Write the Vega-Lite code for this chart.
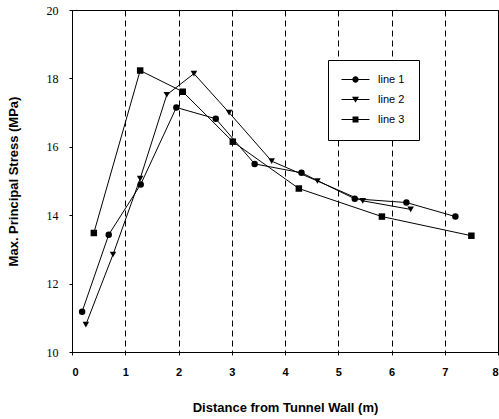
{
  "$schema": "https://vega.github.io/schema/vega-lite/v6.json",
  "autosize": "none",
  "padding": {"left": 72, "top": 10, "right": 1, "bottom": 67},
  "width": 426,
  "height": 342,
  "background": "white",
  "config": {
    "view": {"stroke": "black", "strokeWidth": 1},
    "axis": {"domainColor": "black", "tickColor": "black", "labelColor": "black", "titleColor": "black"}
  },
  "data": {"values": [
    {"series": "line 1", "x": 0.19, "y": 11.18},
    {"series": "line 1", "x": 0.69, "y": 13.43},
    {"series": "line 1", "x": 1.29, "y": 14.9},
    {"series": "line 1", "x": 1.96, "y": 17.15},
    {"series": "line 1", "x": 2.7, "y": 16.82},
    {"series": "line 1", "x": 3.43, "y": 15.5},
    {"series": "line 1", "x": 4.31, "y": 15.24},
    {"series": "line 1", "x": 5.31, "y": 14.48},
    {"series": "line 1", "x": 6.28, "y": 14.37},
    {"series": "line 1", "x": 7.2, "y": 13.96},
    {"series": "line 2", "x": 0.26, "y": 10.8},
    {"series": "line 2", "x": 0.77, "y": 12.85},
    {"series": "line 2", "x": 1.28, "y": 15.07},
    {"series": "line 2", "x": 1.78, "y": 17.52},
    {"series": "line 2", "x": 2.29, "y": 18.14},
    {"series": "line 2", "x": 2.95, "y": 17.0},
    {"series": "line 2", "x": 3.75, "y": 15.58},
    {"series": "line 2", "x": 4.61, "y": 15.0},
    {"series": "line 2", "x": 5.46, "y": 14.42},
    {"series": "line 2", "x": 6.36, "y": 14.17},
    {"series": "line 3", "x": 0.41, "y": 13.48},
    {"series": "line 3", "x": 1.28, "y": 18.23},
    {"series": "line 3", "x": 2.08, "y": 17.61},
    {"series": "line 3", "x": 3.02, "y": 16.15},
    {"series": "line 3", "x": 4.26, "y": 14.78},
    {"series": "line 3", "x": 5.82, "y": 13.96},
    {"series": "line 3", "x": 7.5, "y": 13.4}
  ]},
  "encoding": {
    "x": {
      "field": "x", "type": "quantitative",
      "scale": {"domain": [0, 8], "nice": false, "zero": false},
      "axis": {
        "values": [0, 1, 2, 3, 4, 5, 6, 7, 8],
        "title": "Distance from Tunnel Wall (m)",
        "titleFont": "Liberation Sans", "titleFontSize": 13, "titleFontWeight": "bold", "titlePadding": 24,
        "labelFont": "Liberation Sans", "labelFontSize": 11, "labelFontWeight": "bold", "labelPadding": 11,
        "tickSize": 3, "grid": true, "gridColor": "black", "gridDash": [6, 4], "gridWidth": 1, "gridOpacity": 1
      }
    },
    "y": {
      "field": "y", "type": "quantitative",
      "scale": {"domain": [10, 20], "nice": false, "zero": false},
      "axis": {
        "values": [10, 12, 14, 16, 18, 20],
        "title": "Max. Principal Stress (MPa)",
        "titleFont": "Liberation Sans", "titleFontSize": 13, "titleFontWeight": "bold", "titlePadding": 26,
        "labelFont": "Liberation Serif", "labelFontSize": 12, "labelPadding": 11,
        "tickSize": 3, "grid": false
      }
    }
  },
  "resolve": {"scale": {"shape": "independent"}},
  "layer": [
    {
      "mark": {"type": "line", "color": "black", "strokeWidth": 1},
      "encoding": {"detail": {"field": "series"}}
    },
    {
      "mark": {"type": "point", "filled": true, "color": "black", "opacity": 1, "size": 42},
      "encoding": {
        "shape": {
          "field": "series", "type": "nominal",
          "scale": {"domain": ["line 1", "line 2", "line 3"], "range": ["circle", "triangle-down", "square"]},
          "legend": null
        }
      }
    },
    {
      "transform": [{"filter": "false"}],
      "mark": {"type": "point", "filled": true, "color": "black", "opacity": 1, "size": 49},
      "encoding": {
        "shape": {
          "field": "series", "type": "nominal",
          "scale": {"domain": ["line 1", "line 2", "line 3"], "range": [
            "M-4,-0.15H4V0.15H-4ZM0.9,0A0.9,0.9,0,1,1,-0.9,0A0.9,0.9,0,1,1,0.9,0Z",
            "M-4,-0.15H4V0.15H-4ZM-1,-0.8L1,-0.8L0,0.95Z",
            "M-4,-0.15H4V0.15H-4ZM-0.85,-0.85H0.85V0.85H-0.85Z"
          ]},
          "legend": {
            "title": null, "orient": "none", "legendX": 256, "legendY": 50,
            "strokeColor": "black", "fillColor": "white", "padding": 14,
            "symbolSize": 49, "symbolFillColor": "black",
            "symbolOffset": 8, "labelOffset": 17, "rowPadding": 7,
            "labelFont": "Liberation Sans", "labelFontSize": 11, "labelColor": "black"
          }
        }
      }
    }
  ]
}
